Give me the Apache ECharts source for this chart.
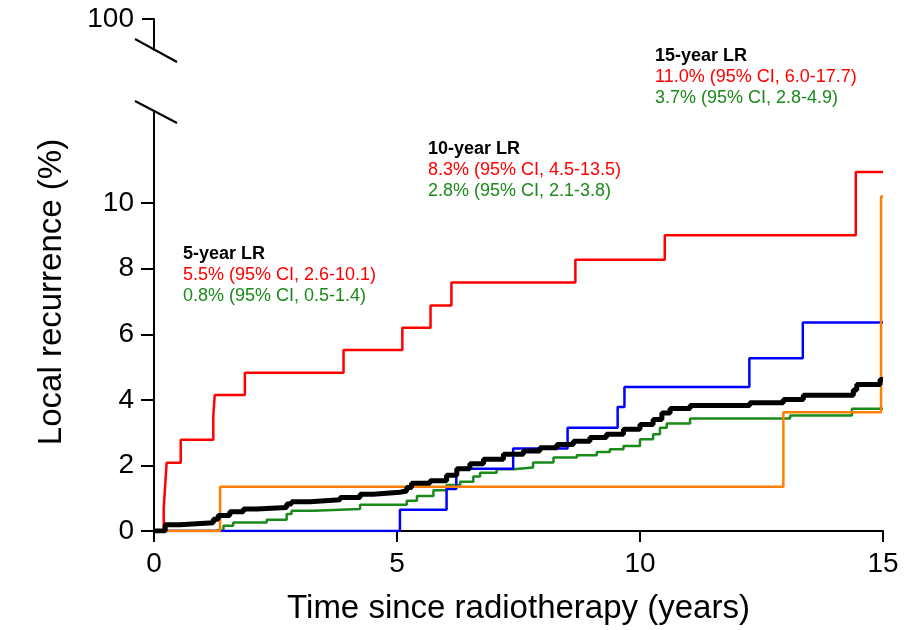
<!DOCTYPE html>
<html>
<head>
<meta charset="utf-8">
<script src="https://cdn.jsdelivr.net/npm/echarts@6/dist/echarts.min.js"></script>
<style>
  html, body { margin: 0; padding: 0; background: #fff; }
  #main { width: 913px; height: 630px; }
</style>
</head>
<body>
<div id="main"></div>
<script>
// 时间 (years) / 累积局部复发 (%)
var redTimes    = [0, 0.2, 0.23, 0.26, 0.55, 1.22, 1.25, 1.87, 3.9, 5.11, 5.69, 6.12, 8.67, 10.51, 14.44, 15];
var redValues   = [0, 0.7, 1.4, 2.08, 2.78, 3.5, 4.15, 4.83, 5.52, 6.2, 6.88, 7.58, 8.27, 9.02, 10.95, 10.95];

var blueTimes   = [0, 5.06, 6.02, 6.22, 7.39, 8.51, 9.54, 9.68, 12.25, 13.35, 15];
var blueValues  = [0, 0.65, 1.28, 1.9, 2.52, 3.15, 3.78, 4.39, 5.27, 6.36, 6.36];

var orangeTimes  = [0, 1.36, 12.95, 14.96, 15];
var orangeValues = [0, 1.35, 3.62, 10.2, 10.2];

var greenTimes  = [0, 1.29, 1.43, 1.63, 2.32, 2.73, 2.83, 3.28, 4.24, 5.2, 5.41, 5.75, 6.02, 6.3, 6.57, 6.71, 7.05, 7.39, 7.8, 8.22, 8.7, 9.11, 9.38, 9.66, 10.0, 10.27, 10.41, 10.55, 11.03, 13.09, 14.36, 15];
var greenValues = [0, 0.06, 0.16, 0.26, 0.34, 0.52, 0.62, 0.67, 0.8, 0.92, 1.07, 1.24, 1.4, 1.5, 1.66, 1.78, 1.88, 1.94, 2.09, 2.24, 2.31, 2.41, 2.49, 2.59, 2.8, 2.95, 3.15, 3.28, 3.43, 3.52, 3.73, 3.73];

var blackTimes  = [0, 0.23, 0.53, 1.22, 1.32, 1.56, 1.84, 2.11, 2.73, 2.83, 3.21, 3.83, 4.24, 4.51, 5.06, 5.2, 5.3, 5.68, 6.02, 6.23, 6.5, 6.78, 7.19, 7.6, 7.94, 8.29, 8.63, 8.97, 9.31, 9.66, 10.0, 10.27, 10.45, 10.62, 11.03, 12.26, 12.95, 13.36, 14.39, 14.46, 14.94, 15];
var blackValues = [0, 0.19, 0.25, 0.36, 0.47, 0.59, 0.67, 0.72, 0.82, 0.89, 0.95, 1.02, 1.12, 1.18, 1.22, 1.33, 1.46, 1.53, 1.7, 1.9, 2.05, 2.19, 2.34, 2.44, 2.54, 2.64, 2.74, 2.85, 2.95, 3.1, 3.25, 3.4, 3.6, 3.74, 3.83, 3.91, 4.01, 4.14, 4.3, 4.47, 4.62, 4.62];

var xTicks = [0, 5, 10, 15];
var yTicks = [0, 2, 4, 6, 8, 10];
var yTopTicks = [100];

// 注释文字
var notes = [
    {title: '5-year LR',  red: '5.5% (95% CI, 2.6-10.1)',  green: '0.8% (95% CI, 0.5-1.4)'},
    {title: '10-year LR', red: '8.3% (95% CI, 4.5-13.5)',  green: '2.8% (95% CI, 2.1-3.8)'},
    {title: '15-year LR', red: '11.0% (95% CI, 6.0-17.7)', green: '3.7% (95% CI, 2.8-4.9)'}
];

function zip(t, v) {
    var out = [];
    for (var i = 0; i < t.length; i++) out.push([t[i], v[i]]);
    return out;
}

var myChart = echarts.init(document.getElementById('main'));

var FONT = 'Liberation Sans, Arial, sans-serif';
var notePos = [[183, 255], [428, 150], [655, 57]];
var noteGraphics = [];
notes.forEach(function (n, i) {
    var x = notePos[i][0], y = notePos[i][1];
    noteGraphics.push({type: 'text', left: x, top: y - 10, style: {text: n.title, font: 'bold 18px ' + FONT, fill: '#000'}});
    noteGraphics.push({type: 'text', left: x, top: y + 11, style: {text: n.red, font: '18px ' + FONT, fill: '#ff0000'}});
    noteGraphics.push({type: 'text', left: x, top: y + 32, style: {text: n.green, font: '18px ' + FONT, fill: '#1a8a1a'}});
});

function stepLine(name, t, v, color, width) {
    return {
        name: name,
        type: 'line',
        step: 'end',
        xAxisIndex: 0,
        yAxisIndex: 0,
        showSymbol: false,
        data: zip(t, v),
        lineStyle: {color: color, width: width},
        itemStyle: {color: color},
        animation: false
    };
}

var option = {
    backgroundColor: '#fff',
    animation: false,
    grid: [
        {left: 154, right: 30, top: 112, bottom: 99, outerBoundsMode: 'none', containLabel: false},
        {left: 154, right: 30, top: 19, height: 31, outerBoundsMode: 'none', containLabel: false}
    ],
    xAxis: [
        {
            type: 'value', gridIndex: 0, min: 0, max: 15, interval: 5,
            name: 'Time since radiotherapy (years)',
            nameLocation: 'middle', nameGap: 61,
            nameTextStyle: {fontSize: 33, fontFamily: FONT, color: '#000'},
            axisLine: {show: true, onZero: false, lineStyle: {color: '#000', width: 2}},
            axisTick: {show: true, inside: false, length: 11, lineStyle: {color: '#000', width: 2}},
            axisLabel: {fontSize: 28, fontFamily: FONT, color: '#000', margin: 19, customValues: xTicks},
            splitLine: {show: false}
        },
        {
            type: 'value', gridIndex: 1, min: 0, max: 15, show: false
        }
    ],
    yAxis: [
        {
            type: 'value', gridIndex: 0, min: 0, max: 12.78, interval: 2,
            axisLine: {show: true, onZero: false, lineStyle: {color: '#000', width: 2}},
            axisTick: {show: true, length: 13, lineStyle: {color: '#000', width: 2}, customValues: yTicks},
            axisLabel: {fontSize: 28, fontFamily: FONT, color: '#000', margin: 20, customValues: yTicks},
            splitLine: {show: false}
        },
        {
            type: 'value', gridIndex: 1, min: 90, max: 100, interval: 10,
            axisLine: {show: true, onZero: false, lineStyle: {color: '#000', width: 2}},
            axisTick: {show: true, length: 12, lineStyle: {color: '#000', width: 2}, customValues: yTopTicks},
            axisLabel: {fontSize: 28, fontFamily: FONT, color: '#000', margin: 20, customValues: yTopTicks},
            splitLine: {show: false}
        }
    ],
    graphic: [
        // 断轴标记
        {type: 'line', shape: {x1: 135, y1: 39, x2: 177, y2: 62}, style: {stroke: '#000', lineWidth: 2}},
        {type: 'line', shape: {x1: 135, y1: 101, x2: 177, y2: 123}, style: {stroke: '#000', lineWidth: 2}},
        {
            type: 'text', x: 52, y: 292, rotation: Math.PI / 2,
            style: {text: 'Local recurrence (%)', font: '33px ' + FONT, fill: '#000', align: 'center', verticalAlign: 'middle'}
        }
    ].concat(noteGraphics),
    series: [
        stepLine('green', greenTimes, greenValues, '#1a8a1a', 2.5),
        stepLine('blue', blueTimes, blueValues, '#0000ff', 2.5),
        stepLine('orange', orangeTimes, orangeValues, '#ff8000', 2.5),
        stepLine('red', redTimes, redValues, '#ff0000', 2.5),
        stepLine('black', blackTimes, blackValues, '#000000', 5)
    ]
};

myChart.setOption(option);
</script>
</body>
</html>
